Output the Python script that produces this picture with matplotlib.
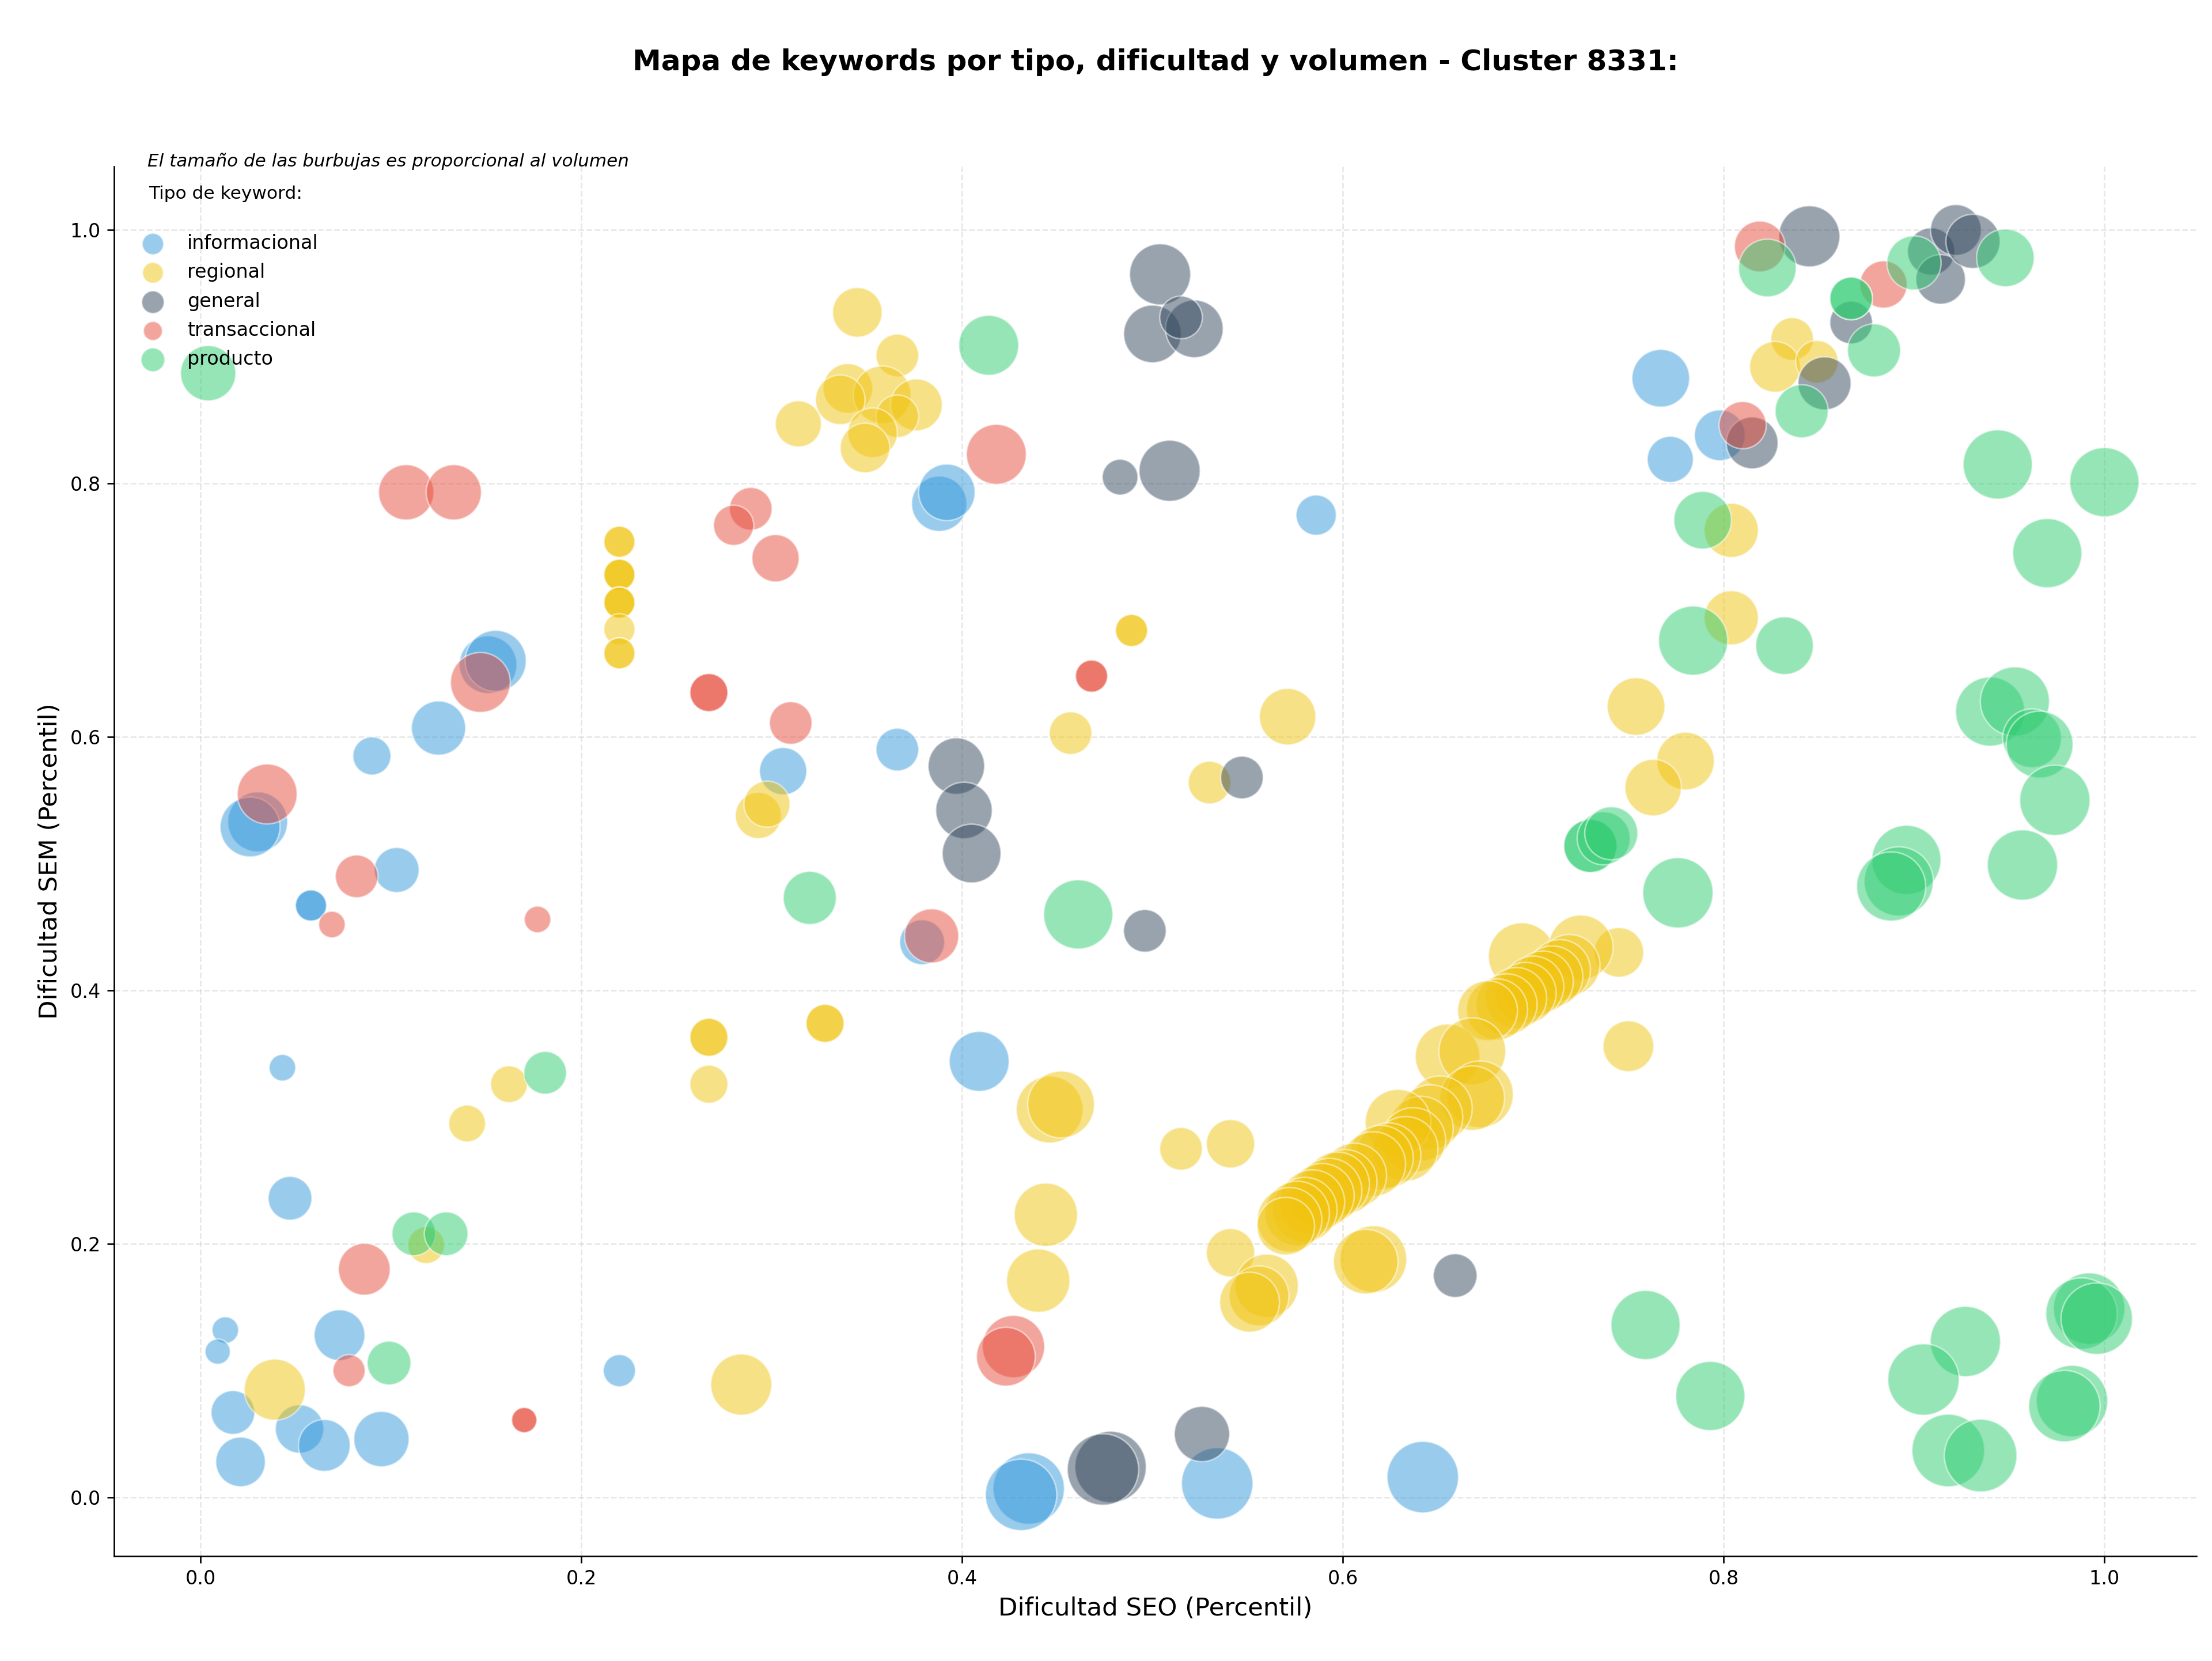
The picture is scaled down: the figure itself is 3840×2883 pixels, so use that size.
import numpy as np
import matplotlib
matplotlib.use("Agg")
import matplotlib.pyplot as plt

# ---- datos (dificultad SEO, dificultad SEM, volumen) ----
seo_informacional = [0.030, 0.026, 0.043, 0.047, 0.013, 0.009, 0.073, 0.017, 0.052, 0.065,
                     0.095, 0.021, 0.058, 0.058, 0.090, 0.103, 0.125, 0.151, 0.155, 0.220,
                     0.306, 0.366, 0.379, 0.388, 0.392, 0.409, 0.435, 0.431, 0.534, 0.586,
                     0.642, 0.767, 0.772, 0.798]
sem_informacional = [0.533, 0.529, 0.339, 0.236, 0.132, 0.115, 0.128, 0.067, 0.054, 0.041,
                     0.046, 0.028, 0.467, 0.467, 0.585, 0.495, 0.607, 0.657, 0.660, 0.100,
                     0.573, 0.590, 0.438, 0.784, 0.793, 0.344, 0.007, 0.002, 0.011, 0.775,
                     0.016, 0.883, 0.819, 0.838]
vol_informacional = [270, 270, 53, 144, 53, 48, 194, 144, 176, 202,
                     230, 185, 73, 73, 109, 152, 221, 250, 281, 78,
                     168, 137, 152, 230, 240, 270, 384, 384, 384, 122,
                     384, 250, 160, 194]

seo_regional = [0.039, 0.1185, 0.140, 0.162, 0.220, 0.220, 0.220, 0.220, 0.220, 0.220,
                0.220, 0.220, 0.220, 0.220, 0.220, 0.267, 0.267, 0.267, 0.284, 0.293,
                0.2975, 0.314, 0.328, 0.328, 0.345, 0.366, 0.340, 0.358, 0.336, 0.376,
                0.366, 0.353, 0.349, 0.457, 0.571, 0.530, 0.489, 0.489, 0.446, 0.452,
                0.515, 0.541, 0.444, 0.440, 0.541, 0.560, 0.556, 0.551, 0.616, 0.612,
                0.754, 0.780, 0.763, 0.745, 0.750, 0.804, 0.804, 0.836, 0.827, 0.849,
                0.694, 0.725, 0.719, 0.714, 0.710, 0.705, 0.700, 0.696, 0.691, 0.686,
                0.681, 0.676,
                0.655, 0.668, 0.672, 0.668, 0.651, 0.646, 0.641, 0.629, 0.637, 0.633,
                0.624, 0.620, 0.616, 0.606, 0.601, 0.597, 0.593, 0.589, 0.584, 0.580,
                0.576, 0.572, 0.570]
sem_regional = [0.085, 0.199, 0.295, 0.326, 0.754, 0.754, 0.728, 0.728, 0.728, 0.706,
                0.706, 0.706, 0.685, 0.666, 0.666, 0.363, 0.363, 0.326, 0.089, 0.538,
                0.547, 0.847, 0.374, 0.374, 0.935, 0.901, 0.875, 0.870, 0.866, 0.862,
                0.853, 0.840, 0.828, 0.603, 0.616, 0.564, 0.684, 0.684, 0.306, 0.310,
                0.275, 0.279, 0.223, 0.171, 0.193, 0.167, 0.159, 0.154, 0.188, 0.186,
                0.624, 0.581, 0.560, 0.430, 0.356, 0.763, 0.694, 0.914, 0.892, 0.896,
                0.427, 0.434, 0.420, 0.416, 0.411, 0.407, 0.403, 0.398, 0.394, 0.389,
                0.385, 0.384,
                0.348, 0.352, 0.318, 0.315, 0.307, 0.300, 0.291, 0.296, 0.282, 0.275,
                0.270, 0.268, 0.263, 0.254, 0.249, 0.247, 0.242, 0.238, 0.233, 0.227,
                0.224, 0.219, 0.214]
vol_regional = [281, 102, 102, 102, 73, 73, 73, 73, 73, 73,
                73, 73, 73, 73, 73, 109, 109, 109, 281, 160,
                160, 160, 109, 109, 185, 137, 185, 250, 185, 202,
                137, 185, 185, 137, 240, 137, 78, 78, 336, 336,
                137, 176, 302, 302, 176, 302, 270, 270, 336, 314,
                250, 250, 240, 185, 194, 221, 221, 137, 194, 137,
                336, 314, 281, 281, 281, 281, 281, 281, 281, 281,
                281, 270,
                314, 336, 336, 314, 314, 314, 314, 325, 314, 314,
                314, 314, 314, 314, 314, 314, 314, 314, 314, 314,
                314, 314, 250]

seo_general = [0.504, 0.500, 0.522, 0.515, 0.483, 0.509, 0.397, 0.401, 0.405, 0.547,
               0.496, 0.659, 0.478, 0.474, 0.526, 0.845, 0.867, 0.853, 0.815, 0.909,
               0.914, 0.922, 0.931]
sem_general = [0.965, 0.918, 0.922, 0.931, 0.805, 0.810, 0.577, 0.542, 0.508, 0.568,
               0.447, 0.175, 0.024, 0.022, 0.050, 0.995, 0.927, 0.879, 0.832, 0.983,
               0.961, 1.000, 0.991]
vol_general = [281, 250, 250, 137, 96, 281, 240, 240, 260, 137,
               137, 144, 384, 384, 230, 281, 137, 212, 202, 168,
               185, 194, 221]

seo_transaccional = [0.035, 0.082, 0.069, 0.177, 0.108, 0.133, 0.147, 0.086, 0.078, 0.170,
                     0.170, 0.267, 0.267, 0.289, 0.280, 0.302, 0.310, 0.384, 0.418, 0.468,
                     0.468, 0.427, 0.423, 0.819, 0.884, 0.810]
sem_transaccional = [0.555, 0.490, 0.452, 0.456, 0.793, 0.793, 0.643, 0.180, 0.100, 0.061,
                     0.061, 0.635, 0.635, 0.780, 0.767, 0.741, 0.611, 0.443, 0.823, 0.648,
                     0.648, 0.119, 0.111, 0.987, 0.957, 0.846]
vol_transaccional = [270, 137, 53, 53, 230, 230, 270, 202, 78, 48,
                     48, 109, 109, 137, 122, 168, 137, 221, 270, 78,
                     78, 292, 260, 194, 168, 168]

seo_producto = [0.004, 0.112, 0.129, 0.099, 0.181, 0.320, 0.414, 0.461, 0.730, 0.730,
                0.737, 0.741, 0.776, 0.759, 0.793, 0.784, 0.789, 0.832, 0.823, 0.867,
                0.867, 0.879, 0.841, 0.900, 0.948, 0.944, 1.000, 0.970, 0.940, 0.953,
                0.962, 0.966, 0.974, 0.896, 0.892, 0.888, 0.957, 0.927, 0.905, 0.918,
                0.935, 0.992, 0.988, 0.996, 0.983, 0.979]
sem_producto = [0.887, 0.208, 0.208, 0.106, 0.335, 0.473, 0.909, 0.460, 0.514, 0.514,
                0.520, 0.524, 0.477, 0.136, 0.080, 0.676, 0.771, 0.672, 0.970, 0.946,
                0.946, 0.905, 0.857, 0.974, 0.978, 0.815, 0.801, 0.745, 0.620, 0.628,
                0.599, 0.594, 0.550, 0.503, 0.486, 0.482, 0.499, 0.123, 0.093, 0.037,
                0.033, 0.149, 0.145, 0.141, 0.076, 0.072]
vol_producto = [230, 144, 144, 144, 137, 212, 270, 360, 212, 212,
                212, 212, 372, 360, 360, 360, 250, 250, 250, 137,
                137, 212, 212, 221, 250, 360, 360, 360, 360, 360,
                260, 336, 372, 360, 360, 360, 372, 372, 384, 397,
                397, 384, 384, 384, 384, 384]

tipos = ["informacional", "regional", "general", "transaccional", "producto"]
colores = {"informacional": "#3498db", "regional": "#f1c40f", "general": "#34495e",
           "transaccional": "#e74c3c", "producto": "#2ecc71"}
datos = {
    "informacional": (seo_informacional, sem_informacional, vol_informacional),
    "regional": (seo_regional, sem_regional, vol_regional),
    "general": (seo_general, sem_general, vol_general),
    "transaccional": (seo_transaccional, sem_transaccional, vol_transaccional),
    "producto": (seo_producto, sem_producto, vol_producto),
}
cluster = 8331

fig, ax = plt.subplots(figsize=(16, 12.0125), dpi=240)
ax.set_position([0.0516, 0.0631, 0.9414, 0.8366])

for tipo in tipos:
    x, y, vol = datos[tipo]
    ax.scatter(x, y, s=np.array(vol) * 3.6, c=colores[tipo], alpha=0.5,
               edgecolors="white", linewidths=0.8, label=tipo)

ax.set_xlim(-0.0454, 1.0484)
ax.set_ylim(-0.0464, 1.05)
ax.set_xlabel("Dificultad SEO (Percentil)", fontsize=13)
ax.set_ylabel("Dificultad SEM (Percentil)", fontsize=13)
ax.set_title(f"Mapa de keywords por tipo, dificultad y volumen - Cluster {cluster}:",
             fontsize=15, fontweight="bold", pad=50)
ax.grid(True, linestyle="--", alpha=0.3)
ax.set_axisbelow(True)
ax.spines["top"].set_visible(False)
ax.spines["right"].set_visible(False)

ax.text(0.016, 1.004, "El tamaño de las burbujas es proporcional al volumen",
        transform=ax.transAxes, fontsize=9.3, style="italic", va="center", ha="left")
leg = ax.legend(title="Tipo de keyword:\n", loc="upper left", frameon=False, fontsize=10,
                title_fontsize=9.4, markerscale=0.4, borderaxespad=0.6,
                labelspacing=0.52)
leg.get_title().set_linespacing(1.35)

fig.savefig("out.png", dpi=240)
